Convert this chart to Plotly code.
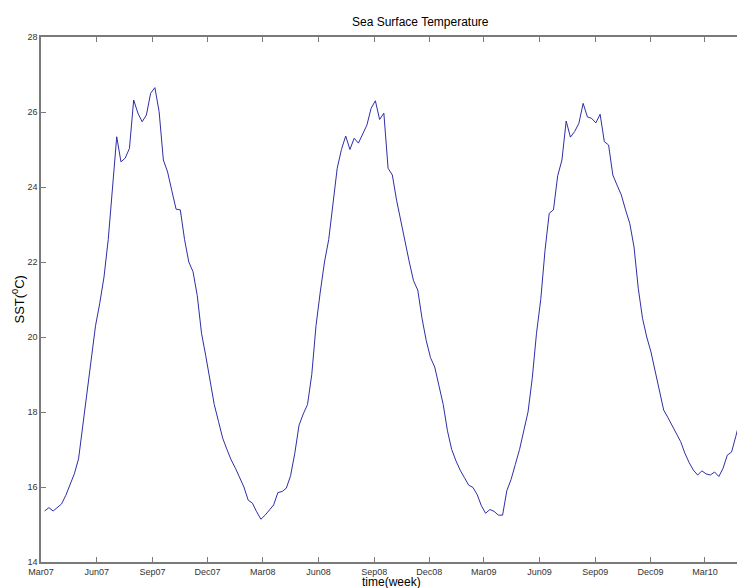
import pandas as pd
import plotly.graph_objects as go

# Weekly sea surface temperature (deg C), first week starting 2007-03-07
start_date = "2007-03-07"
sst = [
    15.36, 15.45, 15.36, 15.46, 15.55, 15.78, 16.05, 16.35, 16.75, 17.6,
    18.5, 19.4, 20.3, 20.9, 21.6, 22.6, 24.0, 25.34, 24.67, 24.77,
    25.03, 26.32, 25.97, 25.74, 25.92, 26.5, 26.65, 26.01, 24.72, 24.4,
    23.9, 23.41, 23.39, 22.6, 22.0, 21.74, 21.1, 20.1, 19.5, 18.8,
    18.2, 17.75, 17.3, 17.0, 16.72, 16.5, 16.23, 16.0, 15.65, 15.57,
    15.34, 15.14, 15.25, 15.4, 15.52, 15.85, 15.88, 15.97, 16.3, 16.9,
    17.65, 17.95, 18.2, 19.0, 20.3, 21.2, 22.0, 22.6, 23.6, 24.5,
    25.0, 25.36, 25.0, 25.3, 25.17, 25.39, 25.65, 26.1, 26.3, 25.8,
    25.97, 24.5, 24.32, 23.65, 23.1, 22.5, 22.0, 21.5, 21.25, 20.5,
    19.9, 19.45, 19.2, 18.7, 18.2, 17.5, 17.0, 16.7, 16.45, 16.25,
    16.05, 15.99, 15.8, 15.5, 15.3, 15.4, 15.35, 15.25, 15.25, 15.9,
    16.2, 16.6, 17.0, 17.5, 18.0, 18.9, 20.1, 21.0, 22.3, 23.3,
    23.39, 24.3, 24.72, 25.76, 25.33, 25.48, 25.7, 26.23, 25.87, 25.83,
    25.71, 25.94, 25.21, 25.12, 24.32, 24.05, 23.79, 23.39, 23.03, 22.4,
    21.3, 20.5, 20.0, 19.6, 19.1, 18.55, 18.05, 17.85, 17.65, 17.45,
    17.21, 16.9, 16.65, 16.45, 16.32, 16.43, 16.35, 16.32, 16.4, 16.28,
    16.5, 16.85, 16.93, 17.35, 17.8,
]
weeks = pd.date_range(start_date, periods=len(sst), freq="7D")

tick_dates = ["2007-03-01", "2007-06-01", "2007-09-01", "2007-12-01",
              "2008-03-01", "2008-06-01", "2008-09-01", "2008-12-01",
              "2009-03-01", "2009-06-01", "2009-09-01", "2009-12-01",
              "2010-03-01"]
tick_labels = ["Mar07", "Jun07", "Sep07", "Dec07", "Mar08", "Jun08", "Sep08",
               "Dec08", "Mar09", "Jun09", "Sep09", "Dec09", "Mar10"]
y_ticks = [14, 16, 18, 20, 22, 24, 26, 28]

fig = go.Figure()
fig.add_trace(go.Scatter(x=weeks, y=sst, mode="lines",
                         line=dict(color="#2e2ea6", width=1),
                         showlegend=False, hoverinfo="skip"))

axis_col = "#7a7a7a"
fig.update_layout(
    width=737, height=588,
    margin=dict(l=41, r=0, t=37, b=26),
    paper_bgcolor="white", plot_bgcolor="white",
    font=dict(family="Liberation Sans, Arial, sans-serif", color="#222"),
    xaxis=dict(
        range=["2007-03-01", "2010-04-23"],
        tickvals=tick_dates, ticktext=tick_labels,
        ticks="inside", ticklen=5, tickcolor=axis_col, tickwidth=1,
        showline=True, linecolor=axis_col, linewidth=1.5, mirror="ticks",
        showgrid=False, zeroline=False,
        tickfont=dict(size=9, color="#333"),
    ),
    yaxis=dict(
        range=[14, 28], tickvals=y_ticks,
        ticks="inside", ticklen=5, tickcolor=axis_col, tickwidth=1,
        showline=True, linecolor=axis_col, linewidth=1.5, mirror=False,
        showgrid=False, zeroline=False,
        tickfont=dict(size=9, color="#333"),
    ),
    annotations=[
        dict(text="Sea Surface Temperature", xref="paper", yref="paper",
             x=0.545, y=1, yshift=15, showarrow=False,
             xanchor="center", yanchor="middle",
             font=dict(size=12, color="black")),
        dict(text="time(week)", xref="paper", yref="paper",
             x=0.504, y=0, yshift=-20, showarrow=False,
             xanchor="center", yanchor="middle",
             font=dict(size=12, color="black")),
        dict(text="SST(<sup>0</sup>C)", xref="paper", yref="paper",
             x=0, xshift=-23, y=0.5, showarrow=False, textangle=-90,
             xanchor="center", yanchor="middle",
             font=dict(size=13, color="black")),
    ],
)

fig.write_html("out.html")
